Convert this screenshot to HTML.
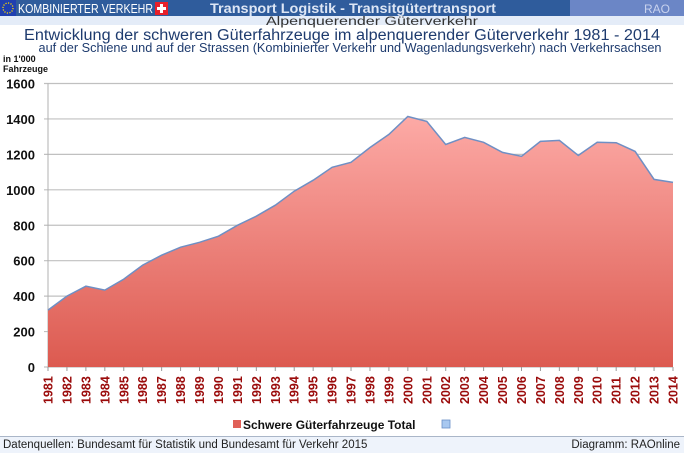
<!DOCTYPE html>
<html><head><meta charset="utf-8"><style>
body{margin:0;width:684px;height:453px;overflow:hidden;background:#fff;font-family:"Liberation Sans",sans-serif}
</style></head><body>
<svg id="s" width="684" height="453" xmlns="http://www.w3.org/2000/svg" font-family="Liberation Sans, sans-serif">
<defs>
<linearGradient id="g" x1="0" y1="0" x2="0" y2="1"><stop offset="0" stop-color="#fdaaa6"/><stop offset="1" stop-color="#dc5a50"/></linearGradient>
</defs>
<rect x="0" y="0" width="684" height="16" fill="#2f5c9c"/>
<rect x="570" y="0" width="114" height="16" fill="#6b86c6"/>
<rect x="0" y="0" width="16" height="16" fill="#1f3fb0"/>
<circle cx="8" cy="8" r="5" fill="none" stroke="#ffd800" stroke-width="1.3" stroke-dasharray="1.2 1.4"/>
<text x="18" y="13" font-size="12.5" fill="#fff" textLength="135" lengthAdjust="spacingAndGlyphs">KOMBINIERTER VERKEHR</text>
<rect x="155" y="2" width="13" height="13" fill="#e8202a"/>
<rect x="160" y="4" width="3" height="9" fill="#fff"/><rect x="157" y="7" width="9" height="3" fill="#fff"/>
<text x="353" y="13" font-size="14" font-weight="bold" fill="#dde6f5" text-anchor="middle" textLength="286" lengthAdjust="spacingAndGlyphs">Transport Logistik - Transitgütertransport</text>
<text x="670" y="13" font-size="12" fill="#c8d2ee" text-anchor="end">RAO</text>
<rect x="0" y="16" width="684" height="9" fill="#e4ecf8"/>
<text x="372" y="25" font-size="11.5" fill="#333" text-anchor="middle" textLength="212" lengthAdjust="spacingAndGlyphs">Alpenquerender Güterverkehr</text>
<text x="342" y="40" font-size="15.5" fill="#1e3b6e" text-anchor="middle" textLength="636" lengthAdjust="spacingAndGlyphs">Entwicklung der schweren Güterfahrzeuge im alpenquerender Güterverkehr 1981 - 2014</text>
<text x="350" y="52" font-size="12.5" fill="#1e3b6e" text-anchor="middle" textLength="623" lengthAdjust="spacingAndGlyphs">auf der Schiene und auf der Strassen (Kombinierter Verkehr und Wagenladungsverkehr) nach Verkehrsachsen</text>
<text x="3" y="62" font-size="9" font-weight="bold" fill="#111">in 1'000</text>
<text x="3" y="72" font-size="9" font-weight="bold" fill="#111">Fahrzeuge</text>
<g id="grid"></g>
<g id="area"></g>
<g id="lab"></g>
<rect x="233" y="420" width="8" height="8" fill="#e06058"/>
<text x="243" y="429" font-size="12" font-weight="bold" fill="#111">Schwere Güterfahrzeuge Total</text>
<rect x="442" y="420" width="8" height="8" fill="#a8c8f0" stroke="#6a90c8" stroke-width="0.8"/>
<rect x="0" y="436" width="684" height="17" fill="#eef3fb"/>
<line x1="0" y1="436.5" x2="684" y2="436.5" stroke="#aab6c8"/>
<text x="3" y="448" font-size="11.5" fill="#222">Datenquellen: Bundesamt für Statistik und Bundesamt für Verkehr 2015</text>
<text x="680" y="448" font-size="11.5" fill="#222" text-anchor="end">Diagramm: RAOnline</text>
</svg>
<script>
var v=[321,400,456,434,496,575,631,676,704,738,800,851,913,992,1054,1127,1155,1239,1313,1414,1386,1256,1296,1268,1211,1189,1273,1279,1194,1268,1266,1217,1059,1042];
var X0=48,X1=673,Y0=367,k=283.5/1600,h="";
for(var i=0;i<=8;i++){var y=Y0-i*200*k;h+='<line x1="'+(X0-4)+'" y1="'+y+'" x2="'+X1+'" y2="'+y+'" stroke="#c0c0c0" stroke-width="1.2"/>';
h+='<text x="35" y="'+(y+5)+'" font-size="13" font-weight="bold" text-anchor="end" fill="#111">'+(i*200)+'</text>';}
h+='<line x1="'+X0+'" y1="'+(Y0-1600*k)+'" x2="'+X0+'" y2="'+Y0+'" stroke="#b0b0b0"/>';
document.getElementById('grid').innerHTML=h;
var st=(X1-X0)/33,p="",a="M"+X0+","+Y0;
for(i=0;i<34;i++){var x=X0+i*st,y=Y0-v[i]*k;p+=x.toFixed(1)+","+y.toFixed(1)+" ";a+=" L"+x.toFixed(1)+","+y.toFixed(1);}
a+=" L"+X1+","+Y0+" Z";
document.getElementById('area').innerHTML='<path d="'+a+'" fill="url(#g)"/><polyline points="'+p+'" fill="none" stroke="#6f8fc4" stroke-width="1.5"/>';
h="";
for(i=0;i<34;i++){var x=X0+i*st;h+='<line x1="'+x+'" y1="'+Y0+'" x2="'+x+'" y2="'+(Y0+4)+'" stroke="#999"/>';
h+='<text transform="translate('+(x+4.5)+',404) rotate(-90)" font-size="12.5" font-weight="bold" fill="#9a0a0a">'+(1981+i)+'</text>';}
document.getElementById('lab').innerHTML=h;
</script>
</body></html>
